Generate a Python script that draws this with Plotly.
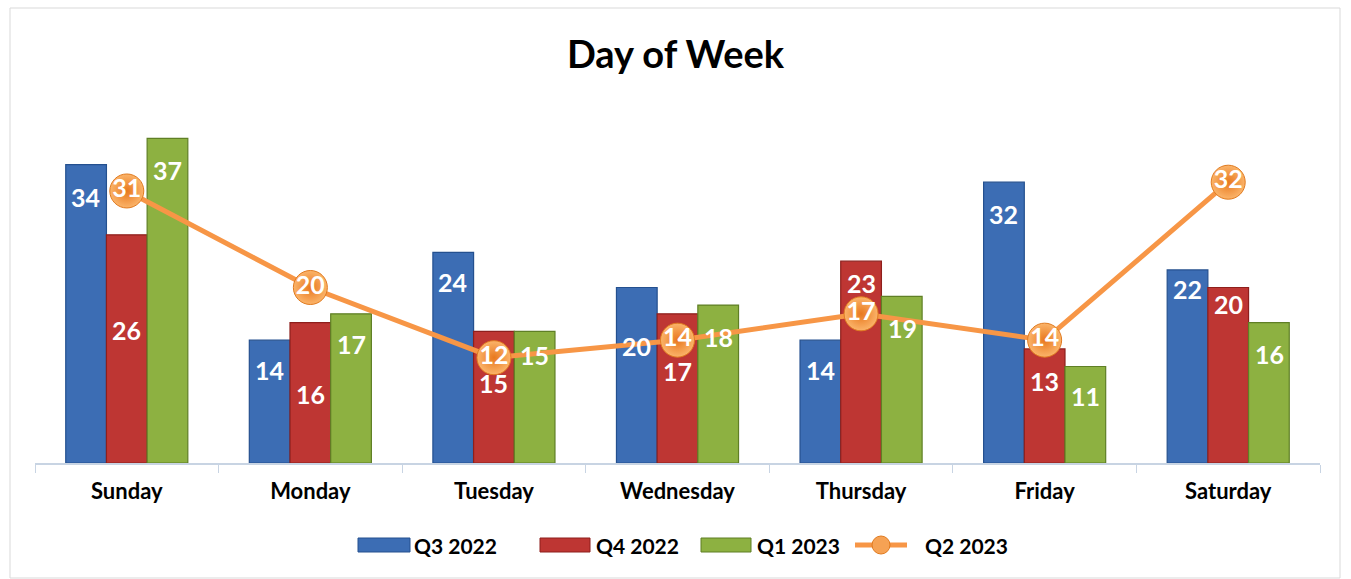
import plotly.graph_objects as go

days = ["Sunday", "Monday", "Tuesday", "Wednesday", "Thursday", "Friday", "Saturday"]
q3_2022 = [34, 14, 24, 20, 14, 32, 22]
q4_2022 = [26, 16, 15, 17, 23, 13, 20]
q1_2023 = [37, 17, 15, 18, 19, 11, 16]
q2_2023 = [31, 20, 12, 14, 17, 14, 32]
series_names = ["Q3 2022", "Q4 2022", "Q1 2023", "Q2 2023"]

# label offsets below bar top (pixels) - styling only
q3_off = [32, 30, 30, 58, 30, 32, 19]
q4_off = [95, 71, 52, 57, 22, 32, 16]
q1_off = [32, 30, 24, 32, 32, 30, 31]

FONT = "Lato"
W, H = 1351, 579
L, R, T, B = 35, 31, 112, 116
PW, PH = W - L - R, H - T - B

def px_x(x):
    return (x - L) / PW

def px_y(y):
    return (H - B - y) / PH

fig = go.Figure()

bar_specs = [
    (series_names[0], q3_2022, "#3C6DB4", "#24508F", q3_off, -41),
    (series_names[1], q4_2022, "#BE3633", "#8E1F1C", q4_off, 0),
    (series_names[2], q1_2023, "#8DB141", "#5F7F25", q1_off, 41),
]
for name, vals, col, lcol, offs, xs in bar_specs:
    fig.add_trace(go.Bar(
        x=days, y=vals, name=name,
        marker=dict(color=col, line=dict(color=lcol, width=1.2)),
    ))
    for d, v, o in zip(days, vals, offs):
        fig.add_annotation(x=d, y=v, xref="x", yref="y", text=str(v),
                           showarrow=False, xshift=xs, yshift=-o,
                           yanchor="middle",
                           font=dict(family=FONT, size=25, color="white", weight="bold"))

fig.add_trace(go.Scatter(
    x=days, y=q2_2023, name=series_names[3], mode="lines+markers+text",
    line=dict(color="#F79646", width=5),
    marker=dict(size=34, color="#FBB46A",
                gradient=dict(type="radial", color="#E8781E"),
                line=dict(color="#E07A1F", width=1)),
    text=[str(v) for v in q2_2023], textposition="middle center",
    textfont=dict(family=FONT, size=25, color="white", weight="bold"),
))

# custom legend
leg_y = px_y(545)
leg_items = [
    (358, 410, "#3C6DB4", "#24508F", 412),
    (540, 590, "#BE3633", "#8E1F1C", 594),
    (701, 751, "#8DB141", "#5F7F25", 755),
]
for (x0, x1, c, lc, tx), nm in zip(leg_items, series_names[:3]):
    fig.add_shape(type="rect", xref="paper", yref="paper",
                  x0=px_x(x0), x1=px_x(x1), y0=px_y(552), y1=px_y(538),
                  fillcolor=c, line=dict(color=lc, width=1))
    fig.add_annotation(xref="paper", yref="paper", x=px_x(tx), y=leg_y, text=nm,
                       showarrow=False, xanchor="left", yanchor="middle",
                       font=dict(family=FONT, size=21, color="black", weight="bold"))
fig.add_shape(type="line", xref="paper", yref="paper",
              x0=px_x(855), x1=px_x(907), y0=leg_y, y1=leg_y,
              line=dict(color="#F79646", width=5))
fig.add_shape(type="circle", xref="paper", yref="paper",
              xsizemode="pixel", ysizemode="pixel",
              xanchor=px_x(881), yanchor=leg_y,
              x0=-9, x1=9, y0=-9, y1=9,
              fillcolor="#F6A254", line=dict(color="#E07A1F", width=1))
fig.add_annotation(xref="paper", yref="paper", x=px_x(923), y=leg_y, text=series_names[3],
                   showarrow=False, xanchor="left", yanchor="middle",
                   font=dict(family=FONT, size=21, color="black", weight="bold"))

# outer chart border
fig.add_shape(type="rect", xref="paper", yref="paper",
              x0=px_x(10), x1=px_x(1340), y0=px_y(578), y1=px_y(8),
              line=dict(color="#D9D9D9", width=1), layer="below")

fig.update_layout(
    width=W, height=H,
    paper_bgcolor="white", plot_bgcolor="white",
    margin=dict(l=L, r=R, t=T, b=B),
    barmode="group", bargap=0.335, bargroupgap=0.0,
    title=dict(text="Day of Week", x=0.5, xanchor="center", y=1 - 55 / H, yanchor="middle",
               font=dict(family=FONT, size=38, color="black", weight="bold")),
    showlegend=False,
    xaxis=dict(type="category", showgrid=False, showline=True, linecolor="#C8D4E3",
               linewidth=1.5, ticks="outside", tickson="boundaries", ticklen=8,
               tickcolor="#C8D4E3", ticklabelstandoff=8,
               tickfont=dict(family=FONT, size=22, color="black", weight="bold")),
    yaxis=dict(range=[0, 40], visible=False, showgrid=False),
)

fig.write_html("out.html", config={"displayModeBar": False},
               post_script="document.body.style.margin='0';")
